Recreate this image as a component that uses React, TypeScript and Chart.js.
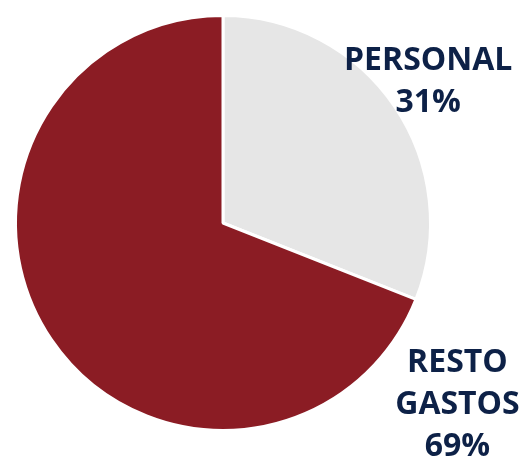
import React, { useEffect, useRef } from "react";
import { Chart, registerables } from "chart.js";

Chart.register(...registerables);

const categories = ["PERSONAL", "RESTO GASTOS"];
const values = [31, 69];
const labelLines = [["PERSONAL", "31%"], ["RESTO", "GASTOS", "69%"]];
const colors = ["#e6e6e6", "#8b1c24"];
// label anchor angle (deg, 0 = right, clockwise) and distance factor relative to radius
const labelAngles = [-34.5, 37.8];
const labelDist = [1.2, 1.43];

const labelPlugin = {
  id: "sliceLabels",
  afterDraw(chart: any) {
    const { ctx } = chart;
    const meta = chart.getDatasetMeta(0);
    ctx.save();
    ctx.font = "bold 32px 'Open Sans'";
    ctx.fillStyle = "#0d2147";
    ctx.textAlign = "center";
    ctx.textBaseline = "middle";
    const lh = 42;
    meta.data.forEach((arc: any, i: number) => {
      const { x, y, outerRadius } = arc.getProps(["x", "y", "outerRadius"], true);
      const a = (labelAngles[i] * Math.PI) / 180;
      const cx = x + Math.cos(a) * outerRadius * labelDist[i];
      const cy = y + Math.sin(a) * outerRadius * labelDist[i];
      const lines = labelLines[i];
      const start = cy - ((lines.length - 1) * lh) / 2;
      lines.forEach((t, j) => ctx.fillText(t, cx, start + j * lh));
    });
    ctx.restore();
  },
};

export default function App() {
  const ref = useRef<HTMLCanvasElement>(null);
  useEffect(() => {
    const chart = new Chart(ref.current!, {
      type: "pie",
      data: {
        labels: categories,
        datasets: [
          {
            data: values,
            backgroundColor: colors,
            borderColor: "#ffffff",
            borderWidth: 3,
          },
        ],
      },
      options: {
        animation: false,
        responsive: false,
        maintainAspectRatio: false,
        layout: { padding: { left: 14, top: 14, right: 92, bottom: 34 } },
        plugins: { legend: { display: false }, tooltip: { enabled: false } },
      },
      plugins: [labelPlugin],
    });
    return () => chart.destroy();
  }, []);
  return (
    <div style={{ position: "fixed", left: 0, top: 0, width: 524, height: 466, background: "#fff" }}>
      <canvas ref={ref} width={524} height={466} />
    </div>
  );
}
